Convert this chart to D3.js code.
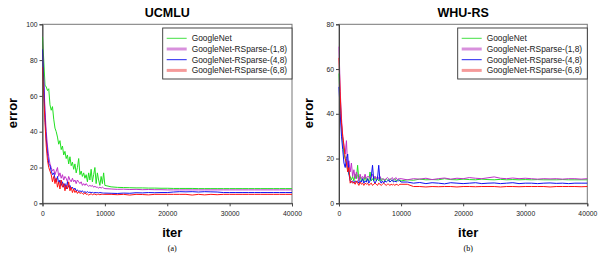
<!DOCTYPE html>
<html><head><meta charset="utf-8">
<script src="https://cdn.jsdelivr.net/npm/d3@7"></script>
<style>
html,body{margin:0;padding:0;background:#fff;}
svg{display:block;}
</style>
</head><body>
<svg id="c" width="602" height="256"></svg>
<script>
const seriesNames = ["GoogleNet","GoogleNet-RSparse-(1,8)","GoogleNet-RSparse-(4,8)","GoogleNet-RSparse-(6,8)"];
const iters = [0,200,400,600,800,1000,1200,1400,1600,1800,
2000,2200,2400,2600,2800,3000,3200,3400,3600,3800,
4000,4200,4400,4600,4800,5000,5200,5400,5600,5800,
6000,6200,6400,6600,6800,7000,7200,7400,7600,7800,
8000,8200,8400,8600,8800,9000,9200,9400,9600,9800,
10000,11000,12000,13000,14000,15000,16000,17000,18000,19000,
20000,21000,22000,23000,24000,25000,26000,27000,28000,29000,
30000,31000,32000,33000,34000,35000,36000,37000,38000,39000,40000];
const xTicks = [0,10000,20000,30000,40000];
const ucmluYTicks = [0,20,40,60,80,100];
const whuYTicks = [0,20,40,60,80];

const ucmluGoogleNet = [93,80,66,65,63,64,55,52,54,47,
42,40,37,33,35,30,32,27,29,25,
27,22,26,21,23,19,22,17,20,25,
16,18,15,17,14,16,12,17,13,19,
12,16,20,11,17,13,10,15,11,17,
10,
9.2,8.9,8.8,8.7,8.6,8.6,8.5,8.5,8.4,8.4,8.3,8.3,8.3,8.3,8.2,8.2,8.2,8.2,8.2,8.2,8.2,8.2,8.2,8.2,8.2,8.2,8.2,8.2,8.2,8.2];
const ucmluRS18 = [85,70,52,40,32,26,22,20,18,19,
16,18,20,15,17,14,16,13,15,14,
12,15,13,12,14,12,13,11,13,12,
11,12,10,11,10,11,10,9.5,10,9.5,
10,9,9.5,9,9,8.5,9,8.5,9,8.5,
8.2,
8.0,7.8,7.9,7.7,7.8,7.6,7.7,7.6,7.6,7.5,7.5,7.5,7.5,7.5,7.5,7.5,7.5,7.5,7.5,7.5,7.5,7.5,7.5,7.5,7.5,7.5,7.5,7.5,7.5,7.5];
const ucmluRS48 = [86,68,48,36,28,22,21,18,16,17,
14,12,15,11,13,10,12,9,11,8,
12,9,10,8,9,7.5,8.5,7,7.5,6.5,
7,6.5,7,6,6.5,6,6.5,6,6.2,6,
6.1,5.8,6,5.9,6,5.8,6,5.9,5.8,5.7,
5.7,
5.6,5.5,5.7,5.6,5.9,5.8,6.0,5.9,6.0,6.0,6.3,6.5,6.4,6.5,6.3,6.5,6.4,6.3,6.0,6.0,6.0,6.0,6.0,6.0,6.0,6.0,6.0,6.0,6.0,6.0];
const ucmluRS68 = [76,60,45,32,24,20,18,16,12,15,
11,14,9,12,8,13,9,11,7,10,
8,12,7,9,6,8,6,7,5.5,6.5,
5.5,6,5.5,5,6,5,5.2,4.6,5,5.3,
4.8,5,5.2,4.7,5,5,4.8,5,5,4.9,
5,
5.0,4.8,5.0,4.6,5.0,4.9,4.7,5.0,5.0,5.0,5.0,5.0,5.0,4.6,5.0,4.7,5.0,4.8,5.0,5.0,5.0,5.0,5.0,5.0,5.0,5.0,5.0,5.0,5.0,5.0];

const whuGoogleNet = [58,45,35,28,22,20,18,15,13,12,
10.5,12,10,13,11,17,10,12,10,11,
10,12,10,11,10,14,10,11,10,12,
10,11,10,11.5,10,11,10.5,10,11,10.5,
10,11,10.5,10,10.5,11,10,10.5,10,10.5,
10,
10.5,10.3,10.8,10.5,10.6,10.5,11,10.6,10.5,10.8,10.6,10.5,10.8,10.6,10.5,10.7,10.5,10.6,10.5,10.6,10.5,10.6,10.5,10.5,10.5,10.6,10.5,10.5,10.5,10.5];
const whuRS18 = [70,50,38,30,25,22,28,16,19,14,
18,12,15,11,14,12,10,13,11,12,
11,13,11,12,12,11,12,13,11,12,
11,12,11,12,11,10.5,11,10.5,11,11.5,
11,10.5,11,11.5,10.5,11,11.5,10.5,11,11,
11,
10.5,11,10.8,11.2,10.6,11,11.3,10.8,11.2,11,11.5,11.2,11,11.4,11.8,11.2,11,11.3,11,11.2,11,10.8,11,10.9,11,10.8,11,11,10.8,11];
const whuRS48 = [52,40,30,24,18,16,20,22,13,10,
9.5,10,9,10,9.5,10,9,10,9.5,11,
9,10,9.5,11,9,10,12,17,10,9,
10,11,17,10,9,10,9,10,9.5,10,
10.5,9.5,10,10.5,9.5,10,9.5,10,10.5,10,
9.5,
9.5,9,9.3,8.8,9.2,9,8.7,9.2,9,8.8,9,9.2,8.8,9,9.1,8.8,9,9.2,8.8,9,9,8.8,9,9.1,8.9,9,8.8,9,9,9];
const whuRS68 = [65,48,36,30,26,20,18,14,16,9,
10,9,9.5,8.5,10,9,8,9.5,8.5,9,
8,9,8.5,9,8,8.5,9,8,8.5,9,
8.5,8,9,8.5,8,8.5,9,8.5,8,8.5,
8.5,8,8.5,8.2,8.5,8,8.5,8.3,8,8.5,
8.5,
8.5,7.5,7.5,7.3,7.5,7.4,7.5,7.5,7.3,7.5,7.5,7.4,7.5,7.5,7.5,7.3,7.5,7.5,7.4,7.5,7.5,7.5,7.5,7.3,7.5,7.5,7.5,7.5,7.4,7.5];

const lineColors = ["#22e022","#c030c8","#1010f0","#ff1010"];
const legendColors = ["#44e044","#d890dc","#2020f0","#f59a9a"];
const legendWidths = [1,3,1,3];

const svg = d3.select("#c");

function drawChart(opt){
  const g = svg.append("g");
  const x = d3.scaleLinear().domain([0,40000]).range([opt.left, opt.right]);
  const y = d3.scaleLinear().domain([0, opt.ymax]).range([203.3, 24.3]);
  g.append("rect").attr("x",opt.left).attr("y",24.3).attr("width",opt.right-opt.left).attr("height",179)
    .attr("fill","none").attr("stroke","#777").attr("stroke-width",1);
  opt.series.forEach((vals,i)=>{
    const pts = iters.map((it,k)=>[it, vals[k]]).filter(p=>p[1]!==undefined);
    g.append("path").datum(pts)
      .attr("fill","none").attr("stroke",lineColors[i]).attr("stroke-width",1)
      .attr("stroke-linejoin","round")
      .attr("d", d3.line().x(d=>x(d[0])).y(d=>y(d[1])));
  });
  const xa = g.append("g").attr("transform","translate(0,203.3)")
    .call(d3.axisBottom(x).tickValues(xTicks).tickSize(3).tickPadding(5).tickFormat(d3.format("d")));
  const ya = g.append("g").attr("transform",`translate(${opt.left},0)`)
    .call(d3.axisLeft(y).tickValues(opt.yTicks).tickSize(3).tickPadding(2));
  [xa,ya].forEach(a=>{
    a.select(".domain").attr("stroke","#444");
    a.selectAll(".tick line").attr("stroke","#444");
    a.selectAll("text").attr("font-family","'Liberation Sans Narrow','Arial Narrow','Liberation Sans',sans-serif")
      .attr("font-size","6.8px").attr("fill","#222");
  });
  const cx = (opt.left+opt.right)/2;
  g.append("text").attr("x",cx).attr("y",16.5).attr("text-anchor","middle")
    .attr("font-family","'Liberation Sans',Arial,sans-serif").attr("font-weight","bold").attr("font-size","12.5px")
    .text(opt.title);
  g.append("text").attr("x",cx+5).attr("y",236.5).attr("text-anchor","middle")
    .attr("font-family","'Liberation Sans',Arial,sans-serif").attr("font-weight","bold").attr("font-size","13px")
    .text("iter");
  g.append("text").attr("transform",`translate(${opt.left-26},113) rotate(-90)`).attr("text-anchor","middle")
    .attr("font-family","'Liberation Sans',Arial,sans-serif").attr("font-weight","bold").attr("font-size","13px")
    .text("error");
  g.append("text").attr("x",cx+5).attr("y",251).attr("text-anchor","middle")
    .attr("font-family","'Liberation Serif','Times New Roman',serif").attr("font-size","8px")
    .text(opt.caption);
  const lg = g.append("g");
  lg.append("rect").attr("x",opt.legLeft).attr("y",28).attr("width",opt.right-opt.legLeft).attr("height",51)
    .attr("fill","#fff").attr("stroke","#333").attr("stroke-width",0.9);
  seriesNames.forEach((nm,i)=>{
    const yy = 38.3 + i*10.7;
    lg.append("line").attr("x1",opt.legLeft+4).attr("x2",opt.legLeft+24).attr("y1",yy).attr("y2",yy)
      .attr("stroke",legendColors[i]).attr("stroke-width",legendWidths[i]);
    lg.append("text").attr("x",opt.legLeft+29).attr("y",yy+3)
      .attr("font-family","'Liberation Sans',Arial,sans-serif").attr("font-size","8.4px").attr("fill","#222")
      .text(nm);
  });
}

drawChart({left:42.5,right:292,legLeft:162.7,ymax:100,yTicks:ucmluYTicks,title:"UCMLU",caption:"(a)",
  series:[ucmluGoogleNet,ucmluRS18,ucmluRS48,ucmluRS68]});
drawChart({left:339,right:587.3,legLeft:457.7,ymax:80,yTicks:whuYTicks,title:"WHU-RS",caption:"(b)",
  series:[whuGoogleNet,whuRS18,whuRS48,whuRS68]});
</script>
</body></html>
